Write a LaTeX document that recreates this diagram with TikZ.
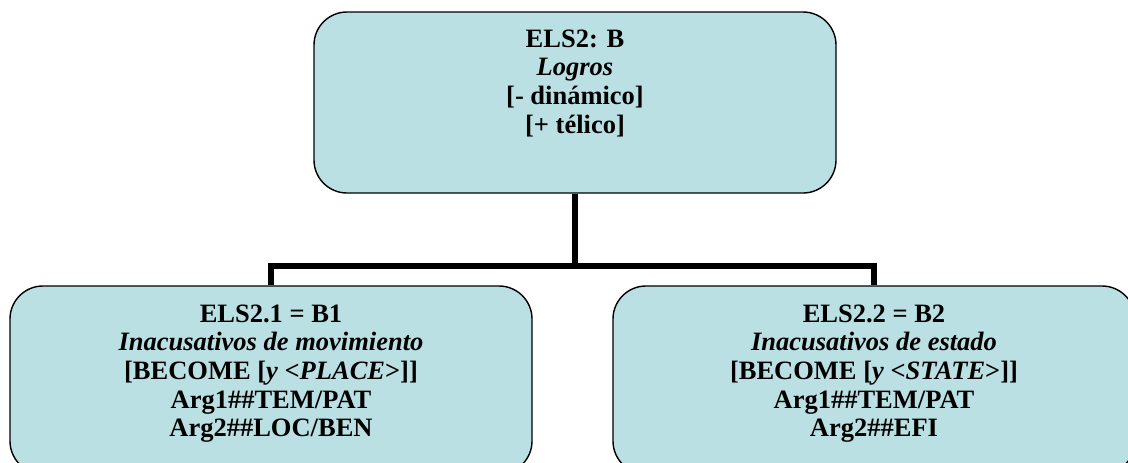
\documentclass[tikz,border=0pt]{standalone}
\usepackage{fontspec}
\setmainfont{Liberation Serif}
\usetikzlibrary{backgrounds}
\definecolor{boxfill}{RGB}{187,224,227}
\begin{document}
\begin{tikzpicture}[x=1pt,y=-1pt,
  box/.style={draw=black, line width=1.4pt, fill=boxfill, rounded corners=33pt, inner sep=0pt, minimum width=522pt},
  txt/.style={align=center, font=\fontsize{26.5}{28.7}\selectfont\bfseries, inner sep=0pt, anchor=north},
  conn/.style={line width=5.5pt, line join=miter}]
\useasboundingbox (0,0) rectangle (1128,463);
\clip (0,0) rectangle (1128,463);
\coordinate (j) at (575,266);
\node[box, minimum height=181pt] (top) at (575,102.5) {};
\node[box, minimum height=188pt] (left) at (271,380) {};
\node[box, minimum height=188pt] (right) at (874,380) {};
\begin{pgfonlayer}{background}
\draw[conn] (top.south) -- (j);
\draw[conn] (left.north) |- (j) -| (right.north);
\end{pgfonlayer}
\node[txt] (ttop) at ([yshift=-18pt]top.north) {ELS2: B\\ \textit{Logros}\\ {}[- dinámico]\\ {}[+ télico]};
\node[txt] (tleft) at ([yshift=-19pt]left.north) {ELS2.1 = B1\\ \textit{Inacusativos de movimiento}\\ {}[BECOME [\textit{y} <\textit{PLACE}>]]\\ Arg1\#\#TEM/PAT\\ Arg2\#\#LOC/BEN};
\node[txt] (tright) at ([yshift=-19pt]right.north) {ELS2.2 = B2\\ \textit{Inacusativos de estado}\\ {}[BECOME [\textit{y} <\textit{STATE}>]]\\ Arg1\#\#TEM/PAT\\ Arg2\#\#EFI};
\end{tikzpicture}
\end{document}
